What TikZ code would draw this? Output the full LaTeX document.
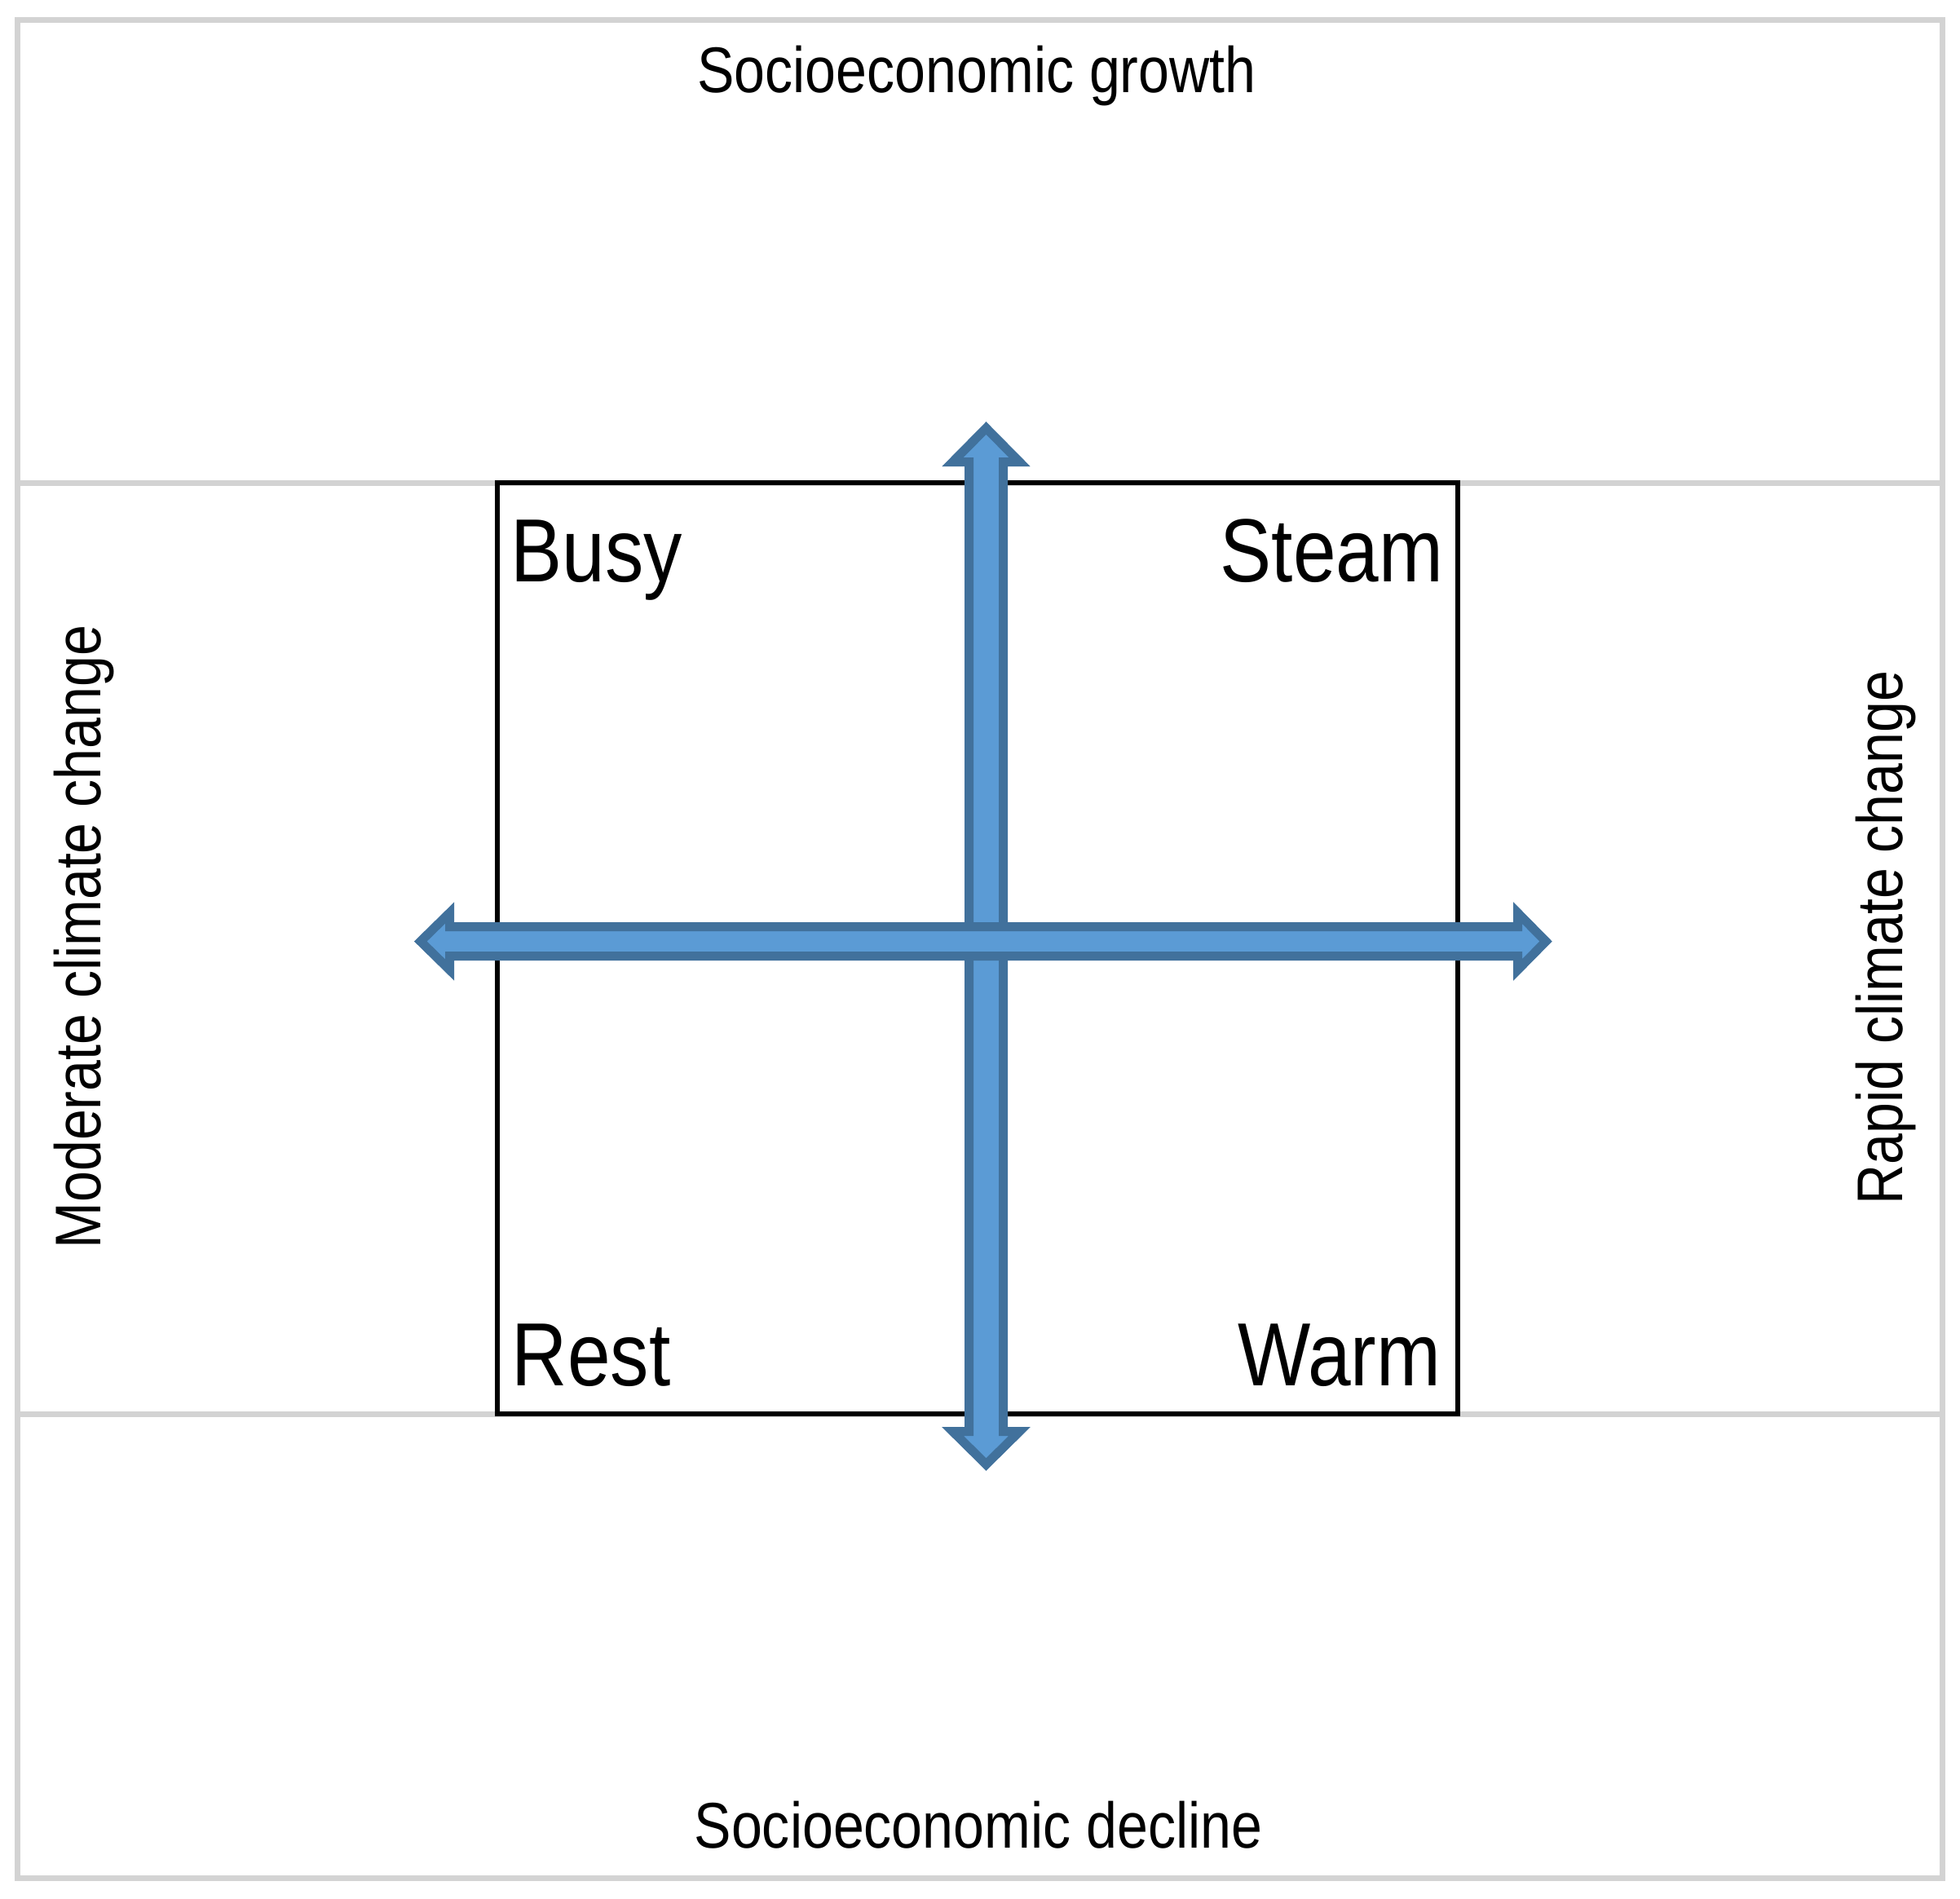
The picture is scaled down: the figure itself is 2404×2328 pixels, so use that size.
\documentclass[tikz,border=0pt]{standalone}
\usepackage{fontspec}
\setmainfont{Liberation Sans}
\newfontfamily\narrowfont[FakeStretch=0.86]{Liberation Sans}
\definecolor{framegray}{HTML}{D3D3D3}
\definecolor{arrowfill}{HTML}{5B9BD5}
\definecolor{arrowline}{HTML}{41719C}
\begin{document}
\begin{tikzpicture}[x=0.25pt,y=-0.25pt,
  frameline/.style={draw=framegray,line width=1.75pt},
  boxline/.style={draw=black,line width=1.5pt},
  bigarrow/.style={fill=arrowfill,draw=arrowline,line width=2.75pt,line join=miter,miter limit=10},
  axislabel/.style={inner sep=0pt,font=\narrowfont\fontsize{19.8}{23}\selectfont},
  quadlabel/.style={inner sep=0pt,font=\narrowfont\fontsize{27.5}{32}\selectfont}]
\useasboundingbox (0,0) rectangle (2404,2328);
% frame and gray separators
\draw[frameline] (21.5,24.5) rectangle (2382.5,2303.5);
\coordinate (gl1) at (21.5,592);
\coordinate (gr1) at (2382.5,592);
\coordinate (gl2) at (21.5,1734);
\coordinate (gr2) at (2382.5,1734);
\draw[frameline] (gl1) -- (gr1);
\draw[frameline] (gl2) -- (gr2);
% central box
\draw[boxline] (610,592) rectangle (1788,1734);
% vertical double arrow
\draw[bigarrow] (1209.5,525) -- (1250.5,566.5) -- (1230.5,566.5) -- (1230.5,1755.5)
  -- (1250.5,1755.5) -- (1209.5,1796) -- (1168.5,1755.5) -- (1188.5,1755.5)
  -- (1188.5,566.5) -- (1168.5,566.5) -- cycle;
% horizontal double arrow
\draw[bigarrow] (515.8,1154.5) -- (551.5,1119.5) -- (551.5,1136.5) -- (1861.5,1136.5)
  -- (1861.5,1119.5) -- (1896,1154.5) -- (1861.5,1189.5) -- (1861.5,1172.5)
  -- (551.5,1172.5) -- (551.5,1189.5) -- cycle;
% axis labels
\node[axislabel,anchor=base] (top) at (1198,113) {Socioeconomic growth};
\node[axislabel,anchor=base] (bottom) at (1200,2266) {Socioeconomic decline};
\node[axislabel,anchor=base,rotate=90] (left) at (123,1149) {Moderate climate change};
\node[axislabel,anchor=base,rotate=90] (right) at (2333,1150) {Rapid climate change};
% quadrant labels
\node[quadlabel,anchor=base west] (busy) at (626,713) {Busy};
\node[quadlabel,anchor=base east] (steam) at (1771,713) {Steam};
\node[quadlabel,anchor=base west] (rest) at (627,1699) {Rest};
\node[quadlabel,anchor=base east] (warm) at (1768,1699) {Warm};
\end{tikzpicture}
\end{document}
